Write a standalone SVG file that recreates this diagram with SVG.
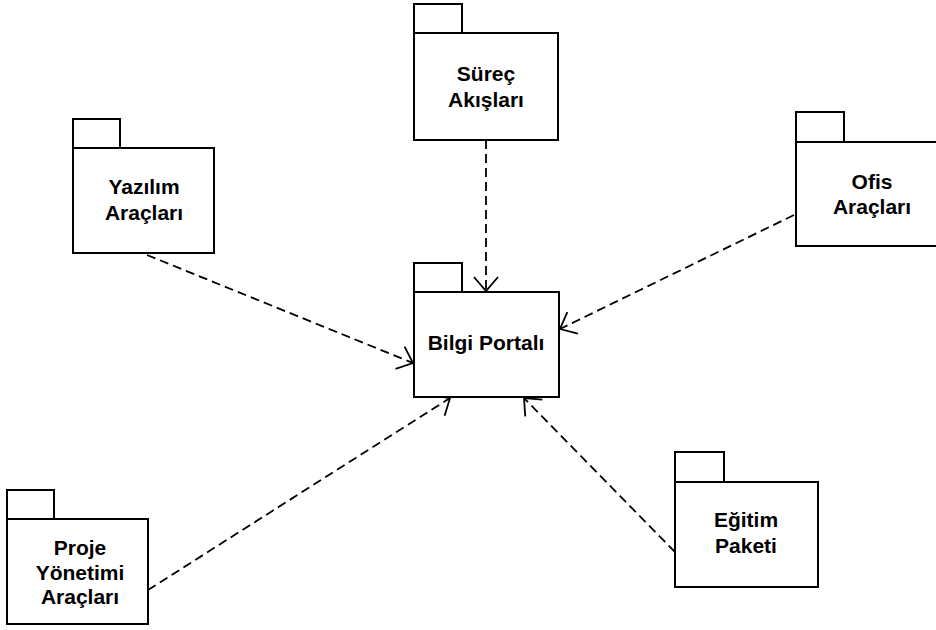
<svg xmlns="http://www.w3.org/2000/svg" width="936" height="630" viewBox="0 0 936 630">
  <style>
    .pkg rect { fill: #ffffff; stroke: #000000; stroke-width: 2; }
    .lbl { font-family: "Liberation Sans", Arial, sans-serif; font-size: 21px; font-weight: bold; fill: #000000; text-anchor: middle; }
    .dep { fill: none; stroke: #000000; stroke-width: 1.8; stroke-dasharray: 9 5; marker-end: url(#open); }
  </style>
  <defs>
    <marker id="open" markerUnits="userSpaceOnUse" viewBox="-16 -14 18 28" refX="0" refY="0" markerWidth="18" markerHeight="28" orient="auto">
      <path d="M-14,-12 L0,0 L-14,12" fill="none" stroke="#000000" stroke-width="1.8"/>
    </marker>
  </defs>
  <rect x="0" y="0" width="936" height="630" fill="#ffffff"/>

  <!-- dependency connectors -->
  <g id="connectors">
    <path class="dep" d="M486,140 L486,291"/>
    <path class="dep" d="M147,255 L413,363"/>
    <path class="dep" d="M794,215 L560,329"/>
    <path class="dep" d="M148,590 L450,398"/>
    <path class="dep" d="M675,552 L524,398"/>
  </g>

  <g id="surec-akislari" class="pkg">
    <rect x="414" y="4" width="48" height="29"/>
    <rect x="414" y="33" width="144" height="107"/>
    <text class="lbl" x="486" y="81">Süreç</text>
    <text class="lbl" x="486" y="107">Akışları</text>
  </g>

  <g id="yazilim-araclari" class="pkg">
    <rect x="73" y="119" width="47" height="29"/>
    <rect x="73" y="148" width="141" height="105"/>
    <text class="lbl" x="144" y="194">Yazılım</text>
    <text class="lbl" x="144" y="220">Araçları</text>
  </g>

  <g id="ofis-araclari" class="pkg">
    <rect x="796" y="112" width="48" height="30"/>
    <rect x="796" y="142" width="154" height="104"/>
    <text class="lbl" x="872" y="189">Ofis</text>
    <text class="lbl" x="872" y="214">Araçları</text>
  </g>

  <g id="bilgi-portali" class="pkg">
    <rect x="414" y="263" width="48" height="29"/>
    <rect x="414" y="292" width="145" height="105"/>
    <text class="lbl" x="486" y="350">Bilgi Portalı</text>
  </g>

  <g id="proje-yonetimi-araclari" class="pkg">
    <rect x="7" y="490" width="47" height="29"/>
    <rect x="7" y="519" width="141" height="105"/>
    <text class="lbl" x="80" y="555">Proje</text>
    <text class="lbl" x="80" y="580">Yönetimi</text>
    <text class="lbl" x="80" y="604">Araçları</text>
  </g>

  <g id="egitim-paketi" class="pkg">
    <rect x="675" y="452" width="49" height="30"/>
    <rect x="675" y="482" width="143" height="105"/>
    <text class="lbl" x="746" y="527">Eğitim</text>
    <text class="lbl" x="746" y="553">Paketi</text>
  </g>
</svg>
